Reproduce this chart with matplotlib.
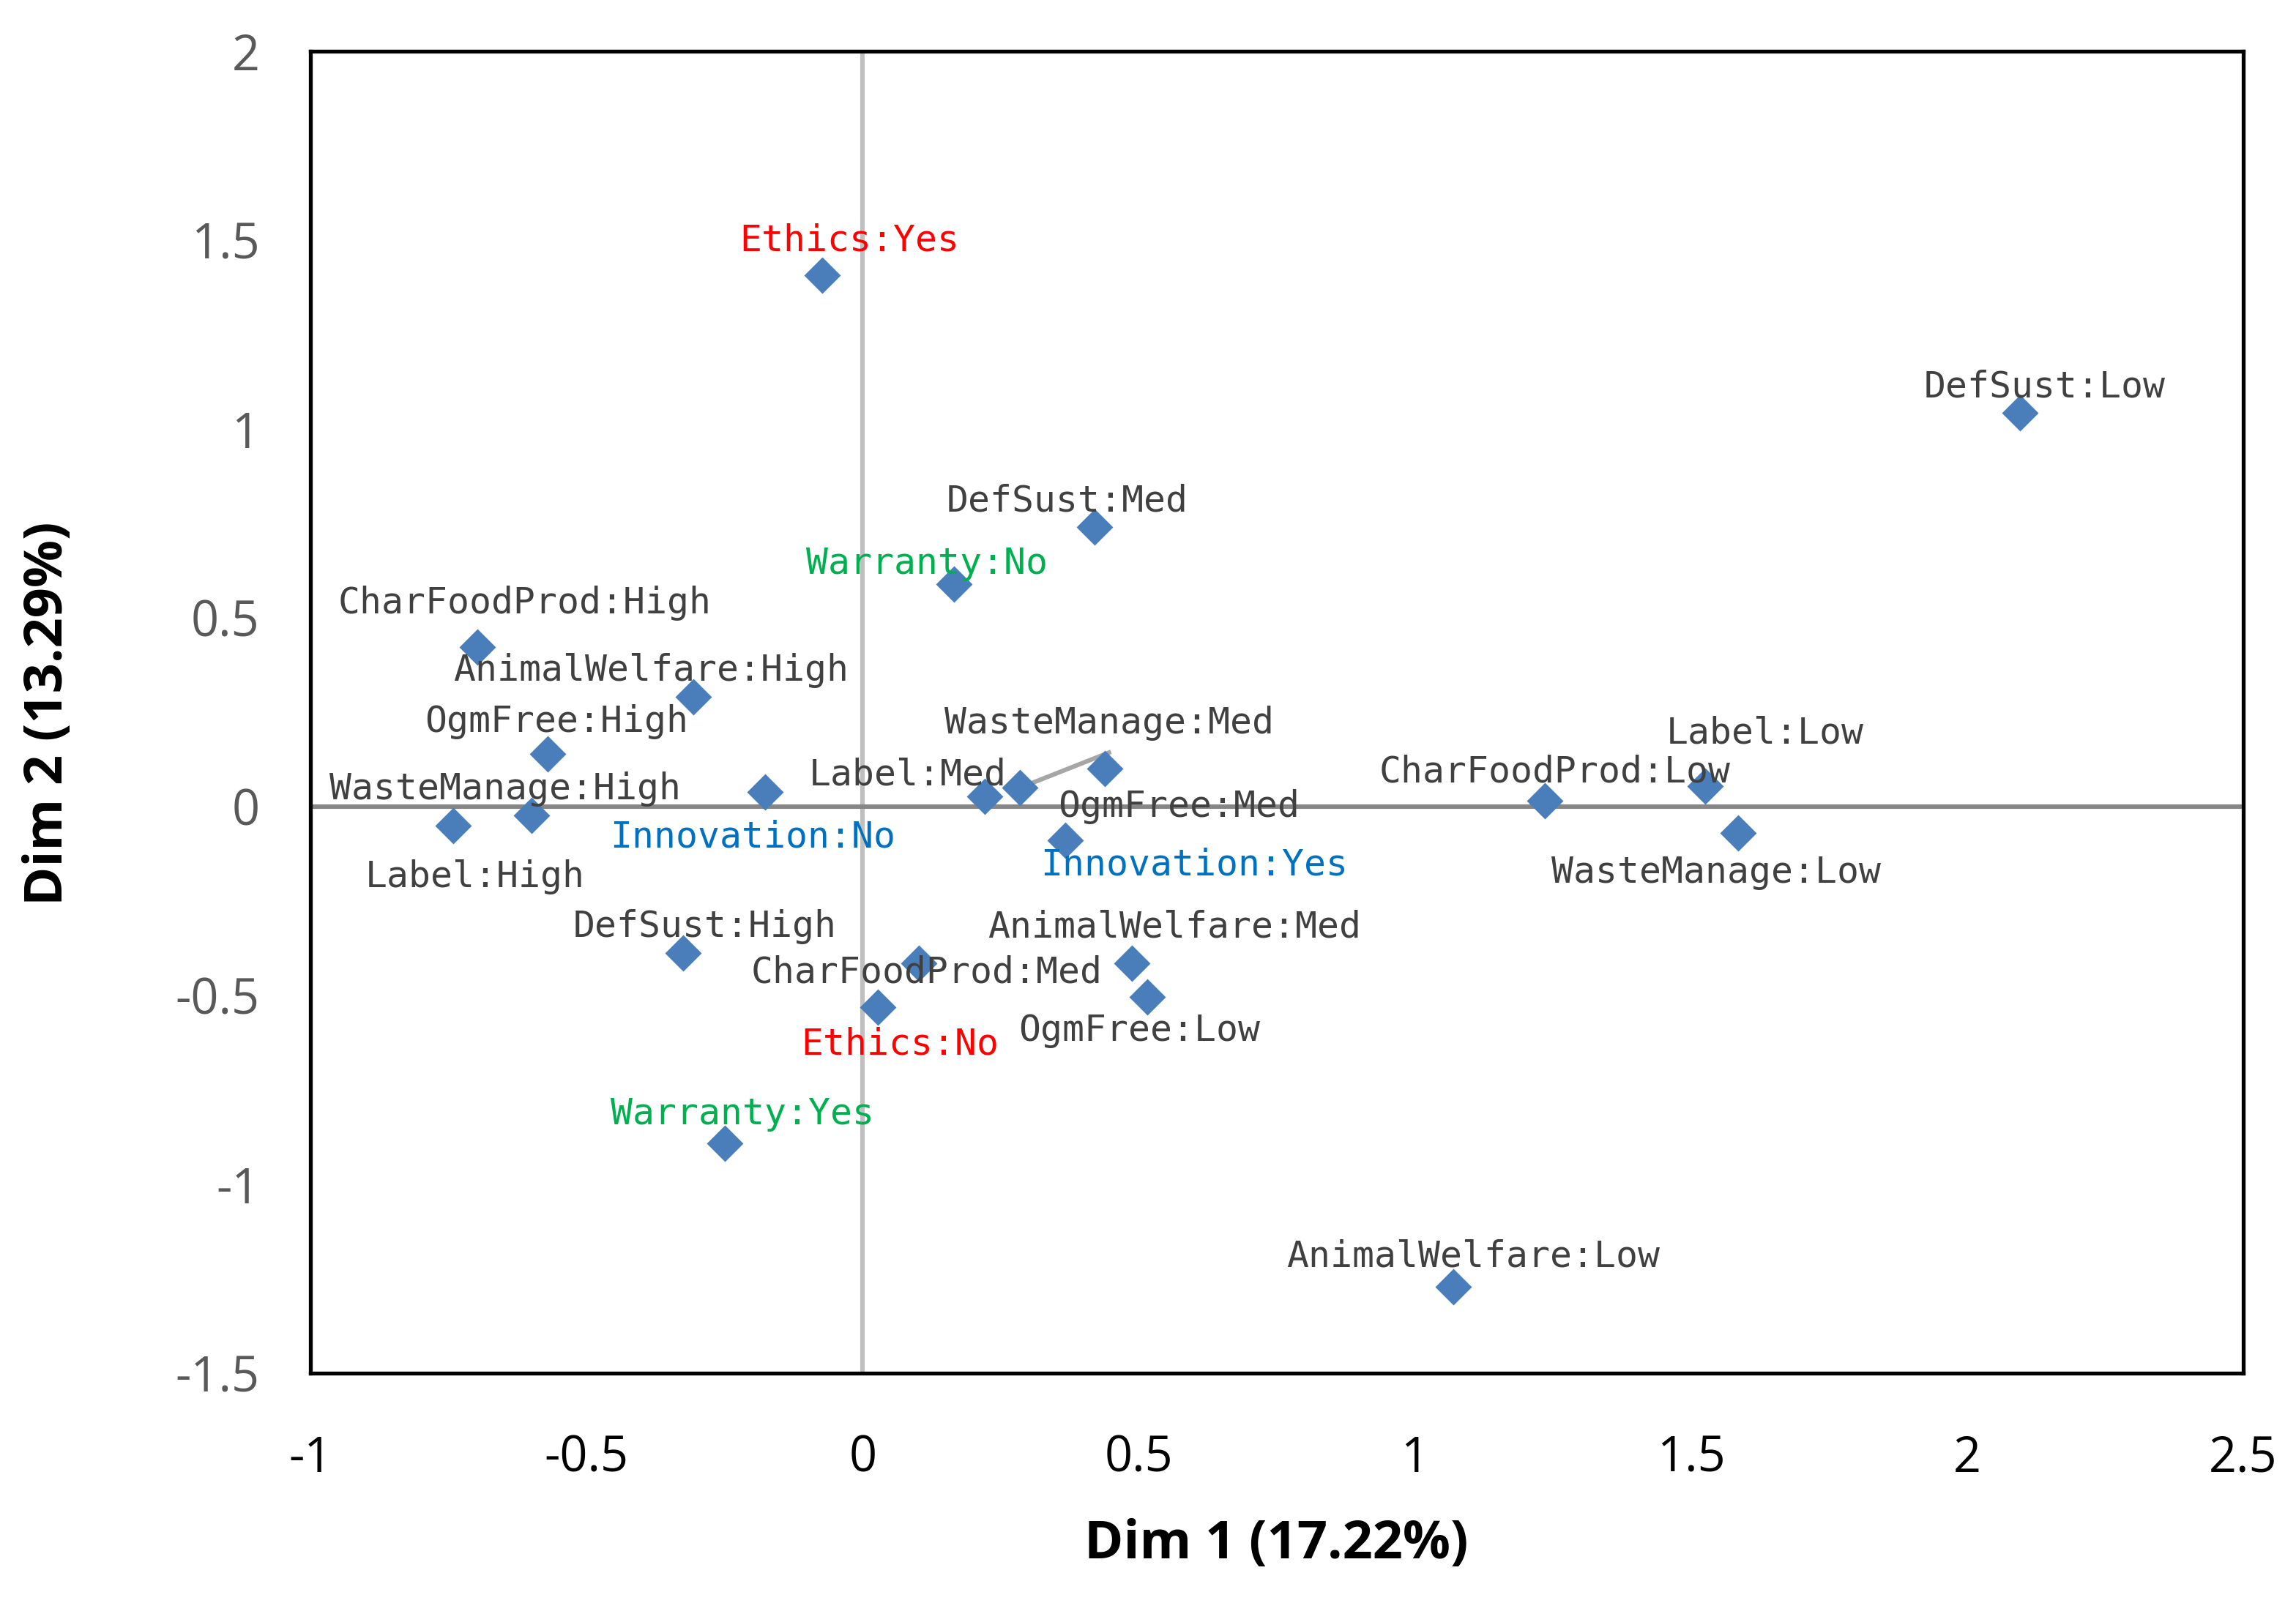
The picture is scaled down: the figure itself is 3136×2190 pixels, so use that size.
import numpy as np
import matplotlib
matplotlib.use("Agg")
import matplotlib.pyplot as plt

# category points (Dim 1, Dim 2)
names = ["Ethics:Yes", "DefSust:Low", "DefSust:Med", "Warranty:No",
         "CharFoodProd:High", "AnimalWelfare:High", "OgmFree:High", "Innovation:No",
         "WasteManage:High", "Label:High", "Label:Med", "WasteManage:Med",
         "OgmFree:Med", "Innovation:Yes", "CharFoodProd:Low", "Label:Low",
         "WasteManage:Low", "DefSust:High", "CharFoodProd:Med", "AnimalWelfare:Med",
         "OgmFree:Low", "Ethics:No", "Warranty:Yes", "AnimalWelfare:Low"]
dim1 = [-0.073, 2.096, 0.420, 0.166, -0.698, -0.306, -0.571, -0.176,
        -0.600, -0.741, 0.221, 0.285, 0.439, 0.367, 1.235, 1.526,
        1.585, -0.325, 0.102, 0.487, 0.516, 0.028, -0.250, 1.070]
dim2 = [1.407, 1.043, 0.740, 0.589, 0.422, 0.291, 0.140, 0.039,
        -0.023, -0.050, 0.027, 0.050, 0.101, -0.089, 0.016, 0.054,
        -0.070, -0.388, -0.415, -0.415, -0.504, -0.531, -0.891, -1.271]

# label positions (where the text sits)
lab_x = [-0.024, 2.141, 0.371, 0.117, -0.612, -0.384, -0.555, -0.199,
         -0.647, -0.702, 0.081, 0.446, 0.572, 0.600, 1.254, 1.634,
         1.546, -0.286, 0.116, 0.565, 0.501, 0.067, -0.218, 1.106]
lab_y = [1.500, 1.112, 0.810, 0.643, 0.539, 0.360, 0.225, -0.081,
         0.047, -0.186, 0.085, 0.221, 0.000, -0.155, 0.093, 0.194,
         -0.174, -0.318, -0.438, -0.318, -0.593, -0.628, -0.814, -1.190]

special = {"Ethics": "#ff0000", "Warranty": "#00b050", "Innovation": "#0070c0"}

xticks = [-1, -0.5, 0, 0.5, 1, 1.5, 2, 2.5]
yticks = [-1.5, -1, -0.5, 0, 0.5, 1, 1.5, 2]

fig = plt.figure(figsize=(15.68, 10.95), dpi=200)
ax = fig.add_axes([0.1352, 0.1434, 0.977 - 0.1352, 0.968 - 0.1434])

ax.axvline(0, color="#bfbfbf", lw=2.2, zorder=1)
ax.axhline(0, color="#868686", lw=2.2, zorder=1)

# leader line for WasteManage:Med
i = names.index("WasteManage:Med")
ax.plot([dim1[i], lab_x[i]], [dim2[i], lab_y[i] - 0.078], color="#a6a6a6", lw=2.2, zorder=2)

ax.plot(dim1, dim2, "D", ms=11.5, color="#4a7ebb", mec="#4a7ebb", zorder=3, linestyle="none")

for n, lx, ly in zip(names, lab_x, lab_y):
    col = special.get(n.split(":")[0], "#404040")
    ax.text(lx, ly, n, ha="center", va="center", color=col, fontsize=17.9,
            family="DejaVu Sans Mono", zorder=4)

ax.set_xlim(-1, 2.5)
ax.set_ylim(-1.5, 2)
ax.set_xticks(xticks)
ax.set_yticks(yticks)
ax.set_xticklabels([f"{t:g}" for t in xticks])
ax.set_yticklabels([f"{t:g}" for t in yticks])
ax.tick_params(axis="x", length=0, pad=30, labelsize=24, labelcolor="#000000")
ax.tick_params(axis="y", length=0, pad=25, labelsize=24, labelcolor="#595959")
for lab in ax.get_xticklabels() + ax.get_yticklabels():
    lab.set_family("Open Sans")
for s in ax.spines.values():
    s.set_linewidth(1.9)
    s.set_color("black")

fig.text(0.556, 0.0365, "Dim 1 (17.22%)", ha="center", va="center",
         fontsize=26, fontweight="bold", family="Open Sans")
fig.text(0.021, 0.555, "Dim 2 (13.29%)", ha="center", va="center", rotation=90,
         fontsize=26, fontweight="bold", family="Open Sans")

fig.savefig("out.png", dpi=200)
